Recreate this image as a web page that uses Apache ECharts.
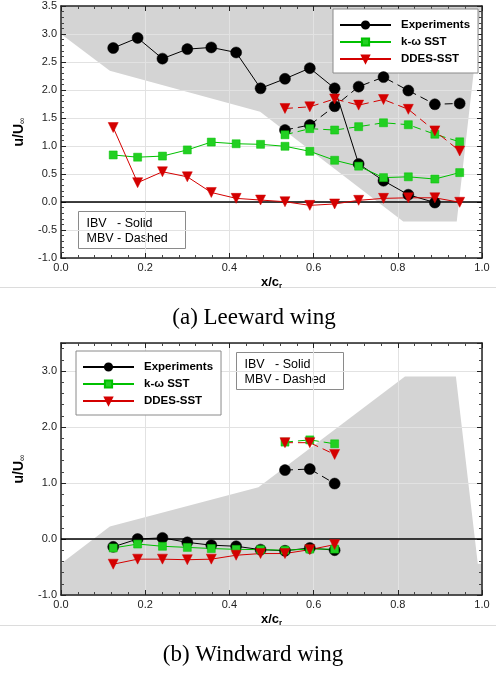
<!DOCTYPE html>
<html>
<head>
<meta charset="utf-8">
<script src="https://cdn.jsdelivr.net/npm/echarts@6/dist/echarts.min.js"></script>
<style>
    html, body { margin: 0; padding: 0; background: #fff; }
    #chart { width: 496px; height: 673px; }
</style>
</head>
<body>
<div id="chart"></div>
<script>
// stations along the chord
var xPos = [0.124, 0.182, 0.241, 0.300, 0.357, 0.416, 0.474, 0.532, 0.591, 0.650, 0.707, 0.766, 0.825, 0.888, 0.947];
var xPosMBV = [0.532, 0.591, 0.650, 0.707, 0.766, 0.825, 0.888, 0.947];

// (a) leeward wing
var leeExpIBV = [2.75, 2.93, 2.56, 2.73, 2.76, 2.67, 2.03, 2.20, 2.39, 2.03, 0.68, 0.38, 0.13, -0.01];
var leeExpMBV = [1.285, 1.375, 1.71, 2.06, 2.23, 1.99, 1.745, 1.76];
var leeKwIBV = [0.84, 0.80, 0.82, 0.93, 1.07, 1.04, 1.03, 0.995, 0.905, 0.745, 0.64, 0.435, 0.45, 0.41, 0.525];
var leeKwMBV = [1.20, 1.31, 1.285, 1.345, 1.415, 1.38, 1.21, 1.075];
var leeDdesIBV = [1.33, 0.345, 0.54, 0.45, 0.17, 0.065, 0.035, 0.005, -0.06, -0.035, 0.03, 0.065, 0.075, 0.075, -0.005];
var leeDdesMBV = [1.67, 1.70, 1.84, 1.73, 1.83, 1.655, 1.27, 0.91];
var leeShadeX = [0, 0, 0.116, 0.473, 0.813, 0.940, 0.998];
var leeShadeY = [3.5, 3.0, 2.345, 1.61, -0.35, -0.35, 3.5];

// (b) windward wing
var winExpIBV = [-0.14, 0.0, 0.02, -0.06, -0.11, -0.13, -0.19, -0.21, -0.16, -0.20];
var winExpMBV = [1.23, 1.25, 0.99];
var winKwIBV = [-0.16, -0.09, -0.13, -0.15, -0.17, -0.185, -0.19, -0.20, -0.18, -0.18];
var winKwMBV = [1.73, 1.77, 1.70];
var winDdesIBV = [-0.45, -0.36, -0.36, -0.37, -0.36, -0.29, -0.26, -0.26, -0.19, -0.10];
var winDdesMBV = [1.72, 1.72, 1.51];
var winShadeX = [0, 0, 0.116, 0.469, 0.817, 0.938, 0.990, 1.0, 1.0];
var winShadeY = [-1.0, -0.44, 0.225, 0.925, 2.90, 2.90, -0.44, -0.44, -1.0];

var names = ['Experiments', 'k-\u03c9 SST', 'DDES-SST'];
var leeTicks = [-1.0, -0.5, 0.0, 0.5, 1.0, 1.5, 2.0, 2.5, 3.0, 3.5];
var winTicks = [-1.0, 0.0, 1.0, 2.0, 3.0];

var FONT = 'Liberation Sans';
var BLACK = '#000000', GREEN = '#00c000', RED = '#d40000', SHADE = '#d4d4d4';

function pair(xs, ys) {
    var out = [];
    for (var i = 0; i < ys.length; i++) out.push([xs[i], ys[i]]);
    return out;
}

function shade(xs, ys, idx) {
    var pts = pair(xs, ys);
    return {
        type: 'custom',
        xAxisIndex: idx,
        yAxisIndex: idx,
        z: 1,
        silent: true,
        data: pts,
        renderItem: function (params, api) {
            if (params.dataIndex !== 0) return;
            var poly = [];
            for (var i = 0; i < pts.length; i++) poly.push(api.coord(pts[i]));
            return {type: 'polygon', shape: {points: poly}, style: {fill: SHADE}};
        }
    };
}

function curve(name, data, idx, color, symbol, size, dashed, fillColor) {
    return {
        name: name,
        type: 'line',
        xAxisIndex: idx,
        yAxisIndex: idx,
        z: 5,
        data: data,
        symbol: symbol,
        symbolSize: size,
        symbolRotate: symbol === 'triangle' ? 180 : 0,
        showAllSymbol: true,
        lineStyle: {color: color, width: 1, type: dashed ? [8, 5] : 'solid'},
        itemStyle: {color: fillColor || color, borderColor: color, borderWidth: 0.5, opacity: 1}
    };
}

function zeroLine(s) {
    s.markLine = {
        silent: true,
        symbol: 'none',
        label: {show: false},
        lineStyle: {color: BLACK, width: 1.5, type: 'solid'},
        data: [{yAxis: 0}]
    };
    return s;
}

function xAxisOf(idx, pos) {
    var main = pos === 'bottom';
    return {
        type: 'value', gridIndex: idx, position: pos, min: 0, max: 1, interval: 0.2, z: 3,
        name: main ? '{a|x/c}{s|r}' : '',
        nameLocation: 'middle', nameGap: 16,
        nameTextStyle: {
            rich: {
                a: {fontFamily: FONT, fontWeight: 'bold', fontSize: 13, color: BLACK},
                s: {fontFamily: FONT, fontWeight: 'bold', fontSize: 8, color: BLACK, padding: [8, 0, 0, 0]}
            }
        },
        axisLine: {show: true, onZero: false, lineStyle: {color: '#222', width: 1.5}},
        axisTick: {show: true, inside: true, length: 5, lineStyle: {color: '#222'}},
        minorTick: {show: true, splitNumber: 5, length: 3, lineStyle: {color: '#444'}},
        splitLine: {show: main, lineStyle: {color: '#e2e2e2', width: 1}},
        axisLabel: {
            show: main, margin: 4, fontFamily: FONT, fontSize: 11, color: '#222',
            formatter: function (v) { return v.toFixed(1); }
        }
    };
}

function yAxisOf(idx, pos, ticks) {
    var main = pos === 'left';
    var step = ticks[1] - ticks[0];
    return {
        type: 'value', gridIndex: idx, position: pos, min: ticks[0], max: 3.5, interval: step, z: 3,
        name: main ? '{a|u/U}{s|\u221e}' : '',
        nameLocation: 'middle', nameGap: 26,
        nameTextStyle: {
            rich: {
                a: {fontFamily: FONT, fontWeight: 'bold', fontSize: 14, color: BLACK},
                s: {fontFamily: FONT, fontSize: 9, color: BLACK, padding: [7, 0, 0, 0]}
            }
        },
        axisLine: {show: true, onZero: false, lineStyle: {color: '#222', width: 1.5}},
        axisTick: {show: true, inside: true, length: 5, lineStyle: {color: '#222'}},
        minorTick: {show: true, splitNumber: 5, length: 3, lineStyle: {color: '#444'}},
        splitLine: {show: main, lineStyle: {color: '#e2e2e2', width: 1}},
        axisLabel: {
            show: main, margin: 4, fontFamily: FONT, fontSize: 11, color: '#222',
            formatter: function (v) {
                return ticks.indexOf(v) < 0 ? '' : v.toFixed(1);
            }
        }
    };
}

function legendOf(left, top) {
    return {
        data: names, orient: 'vertical', left: left, top: top,
        backgroundColor: '#fff', borderColor: '#8a8a8a', borderWidth: 1,
        padding: [10, 8, 8, 6], itemWidth: 51, itemHeight: 9, itemGap: 5,
        symbolRotate: 'inherit',
        selectedMode: false,
        textStyle: {fontFamily: FONT, fontWeight: 'bold', fontSize: 11.5, color: BLACK, padding: [0, 0, 0, 5]}
    };
}

function noteBox(x, y, w, h) {
    return {
        type: 'group', left: x, top: y, z: 10,
        children: [
            {type: 'rect', shape: {x: 0, y: 0, width: w, height: h}, style: {fill: '#fff', stroke: '#8a8a8a', lineWidth: 1}},
            {type: 'text', style: {x: 8, y: 5, text: 'IBV   - Solid\nMBV - Dashed', font: '12.5px "Liberation Sans"', fill: BLACK, lineHeight: 14.5}}
        ]
    };
}

var chart = echarts.init(document.getElementById('chart'));
var option = {
    animation: false,
    backgroundColor: '#fff',
    grid: [
        {left: 61, right: 14, top: 6, height: 252},
        {left: 61, right: 14, top: 343, height: 252}
    ],
    xAxis: [xAxisOf(0, 'bottom'), xAxisOf(1, 'bottom'), xAxisOf(0, 'top'), xAxisOf(1, 'top')],
    yAxis: [yAxisOf(0, 'left', leeTicks), yAxisOf(1, 'left', winTicks), yAxisOf(0, 'right', leeTicks), yAxisOf(1, 'right', winTicks)],
    legend: [legendOf(333, 9), legendOf(76, 351)],
    series: [
        shade(leeShadeX, leeShadeY, 0),
        shade(winShadeX, winShadeY, 1),
        zeroLine(curve(names[0], pair(xPos, leeExpIBV), 0, BLACK, 'circle', 11, false)),
        curve('exp MBV a', pair(xPosMBV, leeExpMBV), 0, BLACK, 'circle', 11, true),
        curve(names[1], pair(xPos, leeKwIBV), 0, GREEN, 'rect', 8, false, '#22d022'),
        curve('kw MBV a', pair(xPosMBV, leeKwMBV), 0, GREEN, 'rect', 8, true, '#22d022'),
        curve(names[2], pair(xPos, leeDdesIBV), 0, RED, 'triangle', 10, false),
        curve('ddes MBV a', pair(xPosMBV, leeDdesMBV), 0, RED, 'triangle', 10, true),
        zeroLine(curve(names[0], pair(xPos, winExpIBV), 1, BLACK, 'circle', 11, false)),
        curve('exp MBV b', pair(xPosMBV, winExpMBV), 1, BLACK, 'circle', 11, true),
        curve(names[1], pair(xPos, winKwIBV), 1, GREEN, 'rect', 8, false, '#22d022'),
        curve('kw MBV b', pair(xPosMBV, winKwMBV), 1, GREEN, 'rect', 8, true, '#22d022'),
        curve(names[2], pair(xPos, winDdesIBV), 1, RED, 'triangle', 10, false),
        curve('ddes MBV b', pair(xPosMBV, winDdesMBV), 1, RED, 'triangle', 10, true)
    ],
    graphic: [
        noteBox(78, 211, 107, 37),
        noteBox(236, 352, 107, 37),
        {type: 'line', shape: {x1: 0, y1: 287.5, x2: 496, y2: 287.5}, style: {stroke: '#dcdcdc', lineWidth: 1}},
        {type: 'line', shape: {x1: 0, y1: 625.5, x2: 496, y2: 625.5}, style: {stroke: '#dcdcdc', lineWidth: 1}},
        {type: 'text', x: 254, y: 318, style: {text: '(a) Leeward wing', font: '23px "Liberation Serif"', fill: BLACK, textAlign: 'center', textVerticalAlign: 'middle'}},
        {type: 'text', x: 253, y: 655, style: {text: '(b) Windward wing', font: '23px "Liberation Serif"', fill: BLACK, textAlign: 'center', textVerticalAlign: 'middle'}}
    ]
};
chart.setOption(option);
</script>
</body>
</html>
